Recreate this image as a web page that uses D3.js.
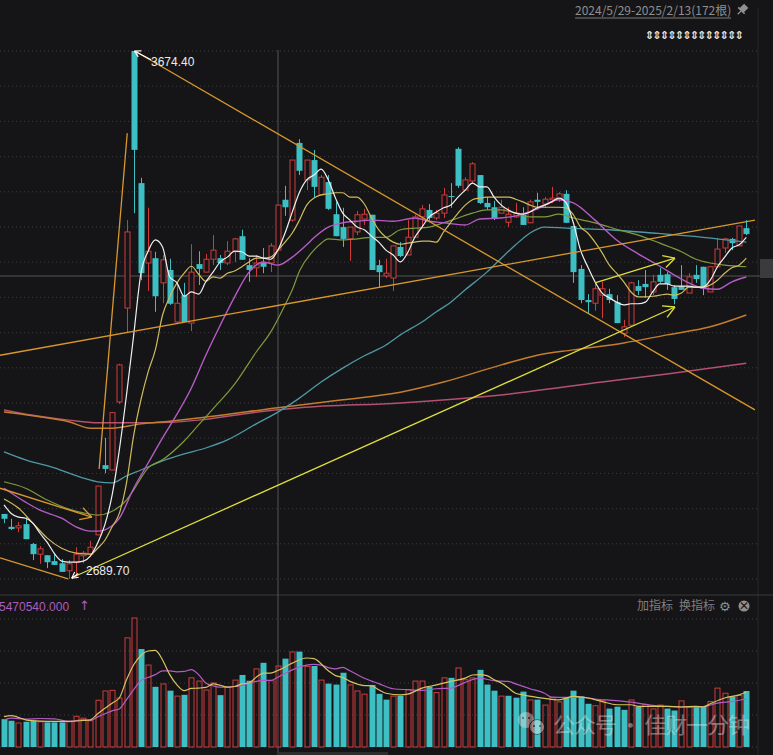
<!DOCTYPE html>
<html><head><meta charset="utf-8">
<script src="https://cdnjs.cloudflare.com/ajax/libs/d3/7.8.5/d3.min.js"></script>
<style>html,body{margin:0;padding:0;background:#151517;overflow:hidden}svg{display:block}text{font-family:"Noto Sans CJK SC","Liberation Sans",sans-serif}</style>
</head><body><div id="chart"></div>
<script>
const opens=[2811,2787,2785,2792,2755,2736,2734,2723,2719,2705,2721,2733,2736,2772,2902,2893,3020,3195,3674.4,3428,3279,3288,3242,3266,3169,3219,3167,3277,3262,3286,3288,3279,3300,3329,3275,3270,3279,3279,3303,3397,3359,3503,3434,3471,3406,3430,3370,3346,3324,3337,3361,3369,3275,3255,3251,3309,3294,3327,3365,3378,3363,3372,3404,3492,3415,3432,3443,3391,3383,3372,3355,3365,3369,3354,3397,3389,3397,3397,3408,3348,3268,3210,3204,3219,3221,3206,3148,3163,3236,3240,3225,3257,3258,3234,3236,3223,3257,3272,3225,3272,3307,3324,3311,3344];
const closes=[2802,2783,2789,2764,2736,2746,2721,2716,2703,2718,2736,2738,2749,2863,2895,3000,3089,3337,3490,3260,3301,3217,3285,3203,3204,3169,3262,3268,3286,3303,3279,3301,3324,3285,3266,3279,3272,3311,3387,3383,3471,3451,3471,3421,3439,3380,3329,3324,3346,3369,3370,3266,3262,3260,3311,3292,3327,3365,3380,3363,3372,3406,3402,3423,3434,3464,3391,3383,3361,3383,3370,3372,3350,3393,3393,3398,3400,3408,3354,3262,3210,3206,3231,3231,3210,3167,3160,3242,3227,3234,3244,3244,3240,3212,3229,3253,3249,3231,3272,3305,3324,3316,3348,3333];
const highs=[2811,2802,2796,2805,2757,2751,2734,2738,2727,2725,2749,2742,2761,2863,2953,3000,3091,3359,3674.4,3438,3382,3300,3294,3287,3242,3242,3314,3301,3296,3331,3294,3320,3326,3341,3288,3294,3307,3316,3387,3423,3471,3510,3471,3490,3443,3443,3393,3382,3346,3376,3380,3369,3285,3287,3311,3318,3359,3369,3387,3389,3378,3419,3428,3495,3439,3467,3443,3402,3395,3397,3383,3391,3383,3397,3410,3402,3421,3411,3415,3348,3275,3221,3242,3244,3231,3219,3173,3244,3247,3266,3257,3270,3262,3238,3275,3260,3275,3272,3272,3326,3326,3326,3348,3359];
const lows=[2794,2781,2777,2764,2725,2718,2710,2716,2703,2689.7,2693,2719,2731,2772,2887,2893,3016,3150,3372,3247,3227,3188,3204,3201,3167,3169,3152,3238,3262,3275,3266,3275,3281,3285,3244,3253,3260,3262,3303,3367,3356,3443,3415,3400,3406,3378,3329,3309,3283,3331,3350,3266,3234,3251,3227,3290,3294,3327,3346,3355,3359,3363,3382,3419,3415,3428,3389,3378,3359,3372,3346,3363,3350,3354,3378,3382,3391,3393,3354,3242,3204,3186,3190,3176,3204,3167,3141,3163,3219,3214,3219,3242,3229,3202,3229,3223,3242,3219,3225,3272,3298,3303,3311,3331];

const volumes=[87,82,75,79,82,79,77,77,77,79,96,90,82,146,175,177,153,341,403,306,256,188,197,176,159,163,216,206,178,200,162,186,209,225,207,244,263,207,253,276,297,298,252,253,209,198,195,232,194,175,165,194,166,148,159,160,179,206,206,189,170,216,216,247,210,216,241,195,176,159,160,154,173,147,148,131,155,141,155,176,158,135,129,145,120,126,116,147,127,133,119,131,120,114,144,125,127,125,142,184,168,158,161,175];
const volumeSides="TTRTTRTTTRRRRRRRRRRTRTRTRTRRRRTRRTTRTRRTRTRTRTTTRRRTTTRTRRRTRRTRRRTTTRTTTRTRRRTTTTRRTTTRTRRRTTRRTTRRRTRT".split("");

const ma5Idx=d3.range(0,104);
const ma5=[2828,2812,2805,2803,2794,2775,2758,2737,2723,2721,2721,2723,2733,2757,2791,2846,2930,3033,3145,3260,3301,3322,3309,3253,3242,3217,3225,3221,3244,3262,3281,3290,3301,3300,3292,3292,3288,3286,3303,3335,3374,3411,3434,3443,3454,3434,3400,3372,3359,3346,3341,3329,3318,3303,3294,3281,3298,3327,3346,3365,3374,3382,3387,3402,3415,3428,3421,3421,3402,3387,3378,3372,3370,3374,3382,3387,3393,3400,3391,3354,3303,3272,3244,3223,3214,3206,3201,3203,3203,3206,3225,3240,3240,3236,3236,3236,3234,3234,3247,3272,3290,3307,3313,3327];
const ma10Idx=[0,2,4,6,8,10,12,13,14,15,16,17,18,19,20,21,22,23,24,25,26,27,28,29,30,31,32,33,34,35,36,37,38,39,40,41,42,43,44,45,46,47,48,49,50,51,52,53,54,55,56,57,58,59,60,61,62,63,64,65,66,67,68,69,70,71,72,73,74,75,76,77,78,79,80,81,82,83,84,85,86,87,88,89,90,91,92,93,94,95,96,97,98,99,100,101,102,103];
const ma10=[2839,2822,2794,2766,2747,2738,2736,2747,2762,2787,2812,2869,2958,3024,3076,3117,3182,3216,3242,3260,3273,3258,3245,3253,3251,3260,3264,3272,3281,3288,3288,3290,3303,3318,3335,3359,3387,3400,3406,3408,3410,3410,3402,3402,3389,3363,3341,3327,3318,3314,3316,3318,3320,3320,3318,3337,3355,3372,3387,3397,3400,3402,3402,3402,3402,3398,3393,3387,3383,3383,3383,3383,3382,3369,3346,3335,3318,3298,3275,3260,3244,3225,3216,3216,3217,3219,3221,3219,3223,3234,3234,3234,3238,3247,3260,3270,3275,3288];
const ma20Idx=[0,3,6,9,11,13,15,17,18,20,22,25,27,29,32,35,37,39,40,41,43,44,45,47,49,51,53,55,57,59,61,63,65,67,69,71,73,75,77,79,81,83,85,88,91,94,96,98,100,103];
const ma20=[2871,2859,2837,2820,2813,2809,2816,2837,2856,2897,2912,2947,2977,3007,3053,3113,3150,3201,3229,3264,3303,3316,3324,3322,3324,3327,3327,3341,3344,3346,3354,3363,3372,3378,3378,3372,3365,3365,3370,3363,3357,3350,3342,3331,3316,3300,3286,3279,3275,3272];
const ma30Idx=[0,3,5,8,10,12,13,15,16,18,20,22,24,26,28,30,32,34,36,38,40,42,43,45,47,49,51,54,57,59,61,64,66,69,71,74,77,79,82,85,88,91,94,97,99,101,103];
const ma30=[2859,2833,2818,2803,2787,2779,2779,2789,2803,2859,2906,2953,2997,3046,3107,3163,3216,3262,3281,3275,3290,3313,3326,3346,3354,3357,3359,3357,3363,3357,3354,3350,3361,3363,3367,3380,3397,3391,3359,3322,3296,3273,3249,3232,3230,3244,3253];
const ma60Idx=[0,3,7,11,13,15,17,19,22,25,28,31,35,38,41,44,47,50,53,55,58,60,62,64,67,69,71,73,75,78,84,90,97,103];
const ma60=[2927,2912,2897,2878,2871,2869,2882,2893,2910,2923,2934,2949,2979,3001,3027,3057,3083,3106,3126,3145,3169,3188,3206,3229,3262,3288,3313,3335,3346,3344,3341,3335,3327,3318];
const ma120Idx=[0,4,9,12,15,19,23,27,38,47,55,61,69,74,79,86,92,98,103];
const ma120=[3001,2994,2983,2971,2971,2979,2984,2990,3009,3024,3038,3057,3089,3107,3117,3130,3145,3160,3182];
const ma250Idx=[0,4,9,13,18,23,27,34,41,55,69,83,92,103];
const ma250=[3005,2995,2986,2981,2981,2982,2986,2999,3009,3018,3033,3057,3072,3092];

const volMa5Idx=[0,1,3,5,7,9,11,12,13,15,16,17,18,19,20,21,22,23,24,25,26,27,28,29,30,31,32,33,34,35,36,37,38,40,42,43,45,46,47,48,50,51,52,53,55,56,58,60,62,64,65,66,67,68,69,70,71,72,75,77,79,81,83,85,87,88,90,92,94,96,97,98,100,102,103];
const volMa5=[95,98,85,81,80,80,83,85,104,137,153,210,257,286,300,302,272,226,194,176,183,184,186,197,193,187,189,197,200,218,231,231,239,262,278,276,238,223,217,205,192,191,179,168,163,165,184,194,205,215,225,226,223,210,200,184,168,163,152,147,158,153,142,132,132,127,127,127,125,127,125,135,153,163,171];
const volMa10Idx=[0,1,3,5,7,9,11,12,13,14,15,16,17,18,19,20,21,22,23,24,25,26,27,28,29,30,31,32,33,34,35,36,37,38,40,41,42,43,44,45,46,47,48,50,52,54,56,58,60,62,64,66,68,70,71,73,75,76,78,80,82,85,87,90,92,95,97,99,101,103];
const volMa10=[85,90,87,89,88,80,85,83,94,104,113,119,148,179,208,217,226,238,238,235,236,242,226,200,191,187,187,189,192,200,205,208,208,218,241,250,256,258,256,248,244,249,238,215,198,182,179,177,182,184,202,215,207,205,197,182,168,156,155,156,150,145,140,130,127,125,126,137,142,150];

const gridPrices=d3.range(0,16).map(k=>2689.7+k*65.65);
const gridVolumes=[0,100,200,300,400];

const trendOrange=[
  [[18.2,3674],[104.2,3005]],
  [[-0.55,3107],[104.2,3359]],
  [[-0.55,2729],[8.9,2690]],
  [[13.2,2895],[17.1,3521]]
];
const arrowOrange=[[[-0.55,2859],[12.2,2805]]];
const arrowYellow=[
  [[9.4,2692],[93.1,3197]],
  [[82,3242],[93.1,3288]]
];
const arrowWhite=[
  [[20.4,3658],[18.1,3674.4]],
  [[10.3,2700],[9.4,2691]]
];
const peakLabel="3674.40";
const lowLabel="2689.70";
const rangeLabel="2024/5/29-2025/2/13(172根)";
const indicatorValue="5470540.000";
const addLabel="加指标";
const swapLabel="换指标";
const watermark="公众号 · 佳财一分钟";

const W=773,H=755,BG="#151517",TEAL="#3dbfc4",RED="#cf3b3b";
const svg=d3.select("#chart").append("svg").attr("width",W).attr("height",H);
svg.append("rect").attr("width",W).attr("height",H).attr("fill",BG);
const x=d3.scaleLinear().domain([0,103]).range([4,746.3]);
const y=d3.scaleLinear().domain([2689.7,3674.4]).range([579,51]);
const yv=d3.scaleLinear().domain([0,403]).range([747,618]);

svg.append("g").selectAll("line").data(gridPrices).join("line")
  .attr("x1",0).attr("x2",757).attr("y1",d=>y(d)).attr("y2",d=>y(d))
  .attr("stroke","#3d3d3f").attr("stroke-dasharray","1 3");
svg.append("g").selectAll("line").data(gridVolumes).join("line")
  .attr("x1",0).attr("x2",757).attr("y1",d=>yv(d)).attr("y2",d=>yv(d))
  .attr("stroke","#3d3d3f").attr("stroke-dasharray","1 3");
svg.append("line").attr("x1",758).attr("x2",758).attr("y1",8).attr("y2",755).attr("stroke","#262628");
svg.append("line").attr("x1",0).attr("x2",W).attr("y1",595).attr("y2",595).attr("stroke","#3a3a3c");
svg.append("line").attr("x1",278).attr("x2",278).attr("y1",50).attr("y2",755).attr("stroke","#555557");
svg.append("line").attr("x1",0).attr("x2",W).attr("y1",276).attr("y2",276).attr("stroke","#555557");
svg.append("rect").attr("x",760).attr("y",259).attr("width",13).attr("height",19).attr("fill","#3b3b3d");
svg.append("rect").attr("x",278).attr("y",752).attr("width",110).attr("height",3).attr("fill","#2d2d2f");

const idx=d3.range(opens.length);
const g=svg.append("g");
idx.forEach(i=>{
  const up=closes[i]>=opens[i],c=up?RED:TEAL,cx=Math.round(x(i))+.5;
  const top=y(Math.max(opens[i],closes[i])),bot=y(Math.min(opens[i],closes[i]));
  g.append("line").attr("x1",cx).attr("x2",cx).attr("y1",y(highs[i])).attr("y2",y(lows[i])).attr("stroke",c);
  if(up) g.append("rect").attr("x",cx-2.5).attr("y",top).attr("width",5).attr("height",Math.max(bot-top,1)).attr("fill",BG).attr("stroke",c);
  else g.append("rect").attr("x",cx-3).attr("y",top).attr("width",6).attr("height",Math.max(bot-top,1)).attr("fill",c);
});

const vg=svg.append("g");
idx.forEach(i=>{
  const up=volumeSides[i]==="R",cx=Math.round(x(i))+.5,t=yv(volumes[i]),b=yv(0);
  if(up) vg.append("rect").attr("x",cx-2.5).attr("y",t).attr("width",5).attr("height",b-t).attr("fill","none").attr("stroke",RED);
  else vg.append("rect").attr("x",cx-3).attr("y",t).attr("width",6).attr("height",b-t).attr("fill",TEAL);
});

function series(ix,vals,ys,color,w){
  const line=d3.line().x((d,i)=>x(ix[i])).y(d=>ys(d)).curve(d3.curveMonotoneX);
  svg.append("path").attr("d",line(vals)).attr("fill","none").attr("stroke",color).attr("stroke-width",w);
}
series(ma250Idx,ma250,y,"#b5506e",1.5);
series(ma120Idx,ma120,y,"#c47d2e",1.5);
series(ma60Idx,ma60,y,"#4f99a5",1.3);
series(ma20Idx,ma20,y,"#7f9a3e",1.2);
series(ma30Idx,ma30,y,"#b55cc4",1.4);
series(ma10Idx,ma10,y,"#cdbb5c",1.2);
series(ma5Idx,ma5,y,"#f0f0f0",1.2);
series(volMa10Idx,volMa10,yv,"#b55cc4",1.2);
series(volMa5Idx,volMa5,yv,"#d6c45e",1.2);

function seg(p,color,w,head,hl){
  const a=[x(p[0][0]),y(p[0][1])],b=[x(p[1][0]),y(p[1][1])];
  svg.append("line").attr("x1",a[0]).attr("y1",a[1]).attr("x2",b[0]).attr("y2",b[1]).attr("stroke",color).attr("stroke-width",w);
  if(head){
    const t=Math.atan2(b[1]-a[1],b[0]-a[0]);
    [-.5,.5].forEach(o=>svg.append("line").attr("x1",b[0]).attr("y1",b[1])
      .attr("x2",b[0]-hl*Math.cos(t+o)).attr("y2",b[1]-hl*Math.sin(t+o)).attr("stroke",color).attr("stroke-width",w));
  }
}
trendOrange.forEach(p=>seg(p,"#d9982c",1.3,false));
arrowOrange.forEach(p=>seg(p,"#d9982c",1.3,true,13));
arrowYellow.forEach(p=>seg(p,"#dede3c",1.3,true,13));
arrowWhite.forEach(p=>seg(p,"#ffffff",1.1,true,7));

function label(t,xp,yp,size,color,extra){
  const n=svg.append("text").attr("x",xp).attr("y",yp).attr("font-size",size).attr("fill",color).text(t);
  if(extra) extra(n);
  return n;
}
label(peakLabel,151,66,12,"#ececec",n=>n.attr("font-weight",500).attr("style",'font-family:"Liberation Sans"'));
label(lowLabel,86,575,12,"#ececec",n=>n.attr("font-weight",500).attr("style",'font-family:"Liberation Sans"'));
label(rangeLabel,575,15,12,"#8f8f8f",n=>n.attr("style",'font-family:"Noto Sans CJK SC"'));
svg.append("line").attr("x1",575).attr("x2",731).attr("y1",18).attr("y2",18).attr("stroke","#7a7a7a");
const pin=svg.append("g").attr("transform","translate(742,10) rotate(45)").attr("fill","#8f8f8f");
pin.append("rect").attr("x",-3).attr("y",-6).attr("width",6).attr("height",7);
pin.append("rect").attr("x",-4.5).attr("y",0).attr("width",9).attr("height",1.6);
pin.append("rect").attr("x",-.6).attr("y",1).attr("width",1.2).attr("height",5);
label("⇕⇕⇕⇕⇕⇕⇕⇕⇕⇕⇕⇕⇕",645,39,11,"#e6e6e6",n=>n.attr("textLength",99).attr("font-weight",700).attr("style",'font-family:"DejaVu Sans"'));
label(indicatorValue,-1,611,12,"#ad5cbc",n=>n.attr("style",'font-family:"Liberation Sans"'));
label("↑",79,610,13,"#ad5cbc",n=>n.attr("style",'font-family:"DejaVu Sans"'));
label(addLabel,637,610,12,"#7f7f7f");
label(swapLabel,679,610,12,"#7f7f7f");
label("⚙",719,611,13,"#8f8f8f",n=>n.attr("style",'font-family:"DejaVu Sans"'));
svg.append("circle").attr("cx",744).attr("cy",606).attr("r",5.5).attr("fill","#8f8f8f");
svg.append("text").attr("x",744).attr("y",609.5).attr("text-anchor","middle").attr("font-size",11).attr("font-weight",700).attr("fill",BG).text("×");

const wm=svg.append("g").attr("opacity",.42);
wm.append("circle").attr("cx",526).attr("cy",720).attr("r",8).attr("fill","#e4e4e4");
wm.append("circle").attr("cx",537).attr("cy",727).attr("r",7.5).attr("fill","#f4f4f4").attr("stroke",BG);
[[523,718],[529,718],[534,726],[540,726]].forEach(p=>wm.append("circle").attr("cx",p[0]).attr("cy",p[1]).attr("r",1).attr("fill",BG));
wm.append("text").attr("x",553).attr("y",733).attr("font-size",22).attr("textLength",197).attr("fill","#e8e8e8").text(watermark);
</script></body></html>
